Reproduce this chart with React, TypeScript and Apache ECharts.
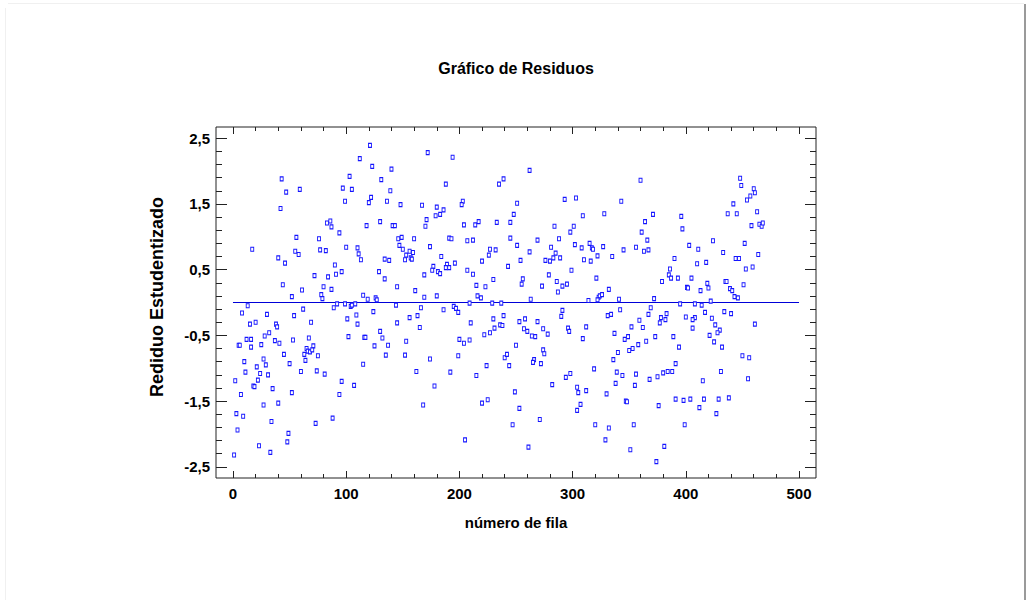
import React, { useEffect, useRef } from "react";
import * as echarts from "echarts";

const chartTitle = "Gráfico de Residuos";
const xAxisTitle = "número de fila";
const yAxisTitle = "Rediduo Estudentizado";

const xMajorTicks = [0, 100, 200, 300, 400, 500];
const xMinorTicks = [0, 20, 40, 60, 80, 100, 120, 140, 160, 180, 200, 220, 240, 260, 280, 300, 320, 340, 360, 380, 400, 420, 440, 460, 480, 500];
const yMajorTicks = [-2.5, -1.5, -0.5, 0.5, 1.5, 2.5];
const yMinorTicks = [-2.5, -2.3, -2.1, -1.9, -1.7, -1.5, -1.3, -1.1, -0.9, -0.7, -0.5, -0.3, -0.1, 0.1, 0.3, 0.5, 0.7, 0.9, 1.1, 1.3, 1.5, 1.7, 1.9, 2.1, 2.3, 2.5];

const zeroLine = [[0, 0], [500, 0]];

// [número de fila, residuo estudentizado]
const rows1to74 = [
  [43, 1.88], [47, 1.68], [59, 1.72], [42, 1.43], [56, 0.99], [17, 0.81], [55, 0.78], [58, 0.73], [40, 0.68], [46, 0.6],
  [72, 0.41], [44, 0.27], [61, 0.19], [52, 0.09], [13, -0.05], [8, -0.16], [30, -0.18], [54, -0.2], [62, -0.1], [15, -0.33],
  [20, -0.3], [38, -0.33], [39, -0.37], [69, -0.3], [32, -0.46], [28, -0.51], [12, -0.56], [16, -0.56], [53, -0.57], [67, -0.54],
  [5, -0.65], [6, -0.65], [16, -0.68], [25, -0.64], [37, -0.58], [41, -0.62], [65, -0.7], [66, -0.74], [68, -0.75], [71, -0.66],
  [70, -0.72], [63, -0.79], [64, -0.88], [45, -0.79], [10, -0.9], [27, -0.86], [29, -0.95], [21, -0.98], [50, -0.93], [11, -1.06],
  [24, -1.08], [31, -1.1], [60, -1.05], [22, -1.18], [18, -1.27], [19, -1.28], [2, -1.19], [35, -1.31], [52, -1.37], [7, -1.4],
  [27, -1.56], [40, -1.53], [3, -1.69], [9, -1.73], [34, -1.81], [4, -1.94], [49, -1.99], [48, -2.12], [23, -2.18], [33, -2.28],
  [1, -2.32], [73, -1.84], [74, -1.04],
];

const rows75to157 = [
  [121, 2.39], [112, 2.19], [123, 2.07], [140, 2.03], [103, 1.92], [131, 1.87], [97, 1.74], [105, 1.72], [139, 1.7], [122, 1.6],
  [120, 1.52], [99, 1.54], [136, 1.54], [148, 1.49], [86, 1.24], [83, 1.21], [87, 1.15], [118, 1.17], [130, 1.23], [141, 1.17],
  [143, 1.17], [94, 1.06], [76, 0.97], [146, 0.97], [149, 0.99], [77, 0.8], [82, 0.79], [100, 0.84], [110, 0.83], [111, 0.74],
  [113, 0.65], [147, 0.87], [150, 0.81], [156, 0.78], [153, 0.72], [152, 0.65], [157, 0.68], [134, 0.66], [138, 0.64], [90, 0.57],
  [84, 0.39], [91, 0.43], [96, 0.47], [129, 0.47], [134, 0.36], [80, 0.24], [87, 0.2], [145, 0.24], [115, 0.11], [119, 0.05],
  [78, 0.12], [79, 0.06], [126, 0.07], [127, 0.04], [92, -0.02], [89, -0.08], [99, -0.02], [104, -0.06], [105, -0.04], [108, -0.02],
  [144, -0.04], [124, -0.14], [101, -0.25], [109, -0.19], [110, -0.33], [145, -0.31], [156, -0.23], [130, -0.44], [102, -0.52], [116, -0.53],
  [117, -0.53], [132, -0.54], [125, -0.66], [137, -0.65], [153, -0.59], [75, -0.81], [135, -0.8], [152, -0.8], [115, -0.94], [81, -1.09],
  [96, -1.2], [107, -1.26], [94, -1.4], [88, -1.76],
];

const rows158to240 = [
  [172, 2.28], [194, 2.21], [188, 1.8], [235, 1.8], [239, 1.88], [167, 1.48], [180, 1.45], [186, 1.41], [183, 1.34], [179, 1.32],
  [203, 1.54], [202, 1.49], [171, 1.26], [170, 1.16], [204, 1.18], [214, 1.18], [217, 1.23], [233, 1.22], [160, 0.97], [191, 0.98],
  [193, 0.97], [207, 0.94], [212, 0.95], [174, 0.85], [159, 0.76], [158, 0.66], [184, 0.7], [227, 0.81], [232, 0.8], [226, 0.72],
  [177, 0.55], [176, 0.49], [181, 0.47], [183, 0.44], [189, 0.58], [188, 0.53], [191, 0.53], [196, 0.6], [220, 0.63], [207, 0.49],
  [212, 0.43], [169, 0.42], [230, 0.35], [215, 0.26], [223, 0.24], [161, 0.18], [169, 0.08], [180, 0.1], [216, 0.1], [219, 0.07],
  [209, -0.01], [229, -0.01], [237, -0.01], [166, -0.08], [195, -0.06], [197, -0.09], [199, -0.15], [186, -0.11], [163, -0.2], [230, -0.25],
  [239, -0.2], [165, -0.38], [210, -0.31], [236, -0.34], [238, -0.35], [231, -0.39], [227, -0.46], [222, -0.49], [200, -0.56], [204, -0.62],
  [209, -0.57], [174, -0.86], [199, -0.81], [240, -0.84], [224, -0.96], [162, -1.05], [192, -1.06], [215, -1.11], [178, -1.27], [168, -1.56],
  [220, -1.53], [225, -1.48], [205, -2.09],
];

const rows241to324 = [
  [262, 2.01], [251, 1.51], [293, 1.57], [303, 1.59], [248, 1.34], [245, 1.22], [309, 1.32], [284, 1.16], [301, 1.16], [298, 1.07],
  [245, 0.98], [269, 0.95], [288, 0.97], [251, 0.87], [281, 0.84], [302, 0.88], [308, 0.83], [315, 0.9], [317, 0.83], [318, 0.81],
  [322, 0.71], [262, 0.77], [254, 0.64], [276, 0.64], [280, 0.63], [283, 0.68], [285, 0.75], [289, 0.68], [310, 0.65], [316, 0.63],
  [243, 0.55], [299, 0.49], [279, 0.42], [256, 0.36], [255, 0.28], [273, 0.25], [286, 0.32], [291, 0.25], [295, 0.28], [287, 0.16],
  [321, 0.37], [263, 0.05], [314, 0.03], [323, 0.08], [324, 0.1], [291, -0.12], [290, -0.21], [258, -0.25], [253, -0.29], [269, -0.29],
  [257, -0.4], [260, -0.44], [274, -0.4], [278, -0.48], [296, -0.39], [297, -0.44], [312, -0.37], [309, -0.55], [264, -0.51], [267, -0.52],
  [250, -0.65], [242, -0.79], [274, -0.72], [275, -0.78], [266, -0.87], [265, -0.91], [272, -0.93], [244, -0.96], [298, -1.08], [294, -1.14],
  [319, -1.01], [282, -1.25], [304, -1.29], [305, -1.37], [312, -1.34], [249, -1.36], [307, -1.55], [304, -1.64], [253, -1.61], [271, -1.78],
  [247, -1.86], [320, -1.86], [261, -2.2],
];

const rows325to409 = [
  [360, 1.86], [343, 1.54], [328, 1.35], [371, 1.34], [396, 1.31], [364, 1.23], [397, 1.12], [361, 1.07], [366, 0.95], [327, 0.85],
  [345, 0.8], [356, 0.84], [363, 0.78], [367, 0.8], [403, 0.87], [335, 0.7], [390, 0.67], [386, 0.51], [385, 0.42], [387, 0.37],
  [393, 0.37], [379, 0.32], [405, 0.37], [332, 0.2], [401, 0.23], [402, 0.22], [326, 0.12], [322, 0.04], [341, 0.05], [372, 0.06],
  [395, -0.02], [408, -0.02], [369, -0.08], [342, -0.11], [331, -0.2], [334, -0.18], [367, -0.18], [383, -0.17], [378, -0.23], [382, -0.26],
  [377, -0.31], [400, -0.22], [408, -0.23], [406, -0.26], [406, -0.39], [359, -0.27], [352, -0.37], [362, -0.38], [337, -0.47], [349, -0.52],
  [346, -0.56], [373, -0.52], [389, -0.52], [358, -0.64], [365, -0.59], [353, -0.7], [350, -0.73], [394, -0.68], [340, -0.76], [336, -0.87],
  [391, -0.93], [339, -1.06], [344, -1.11], [356, -1.09], [368, -1.17], [375, -1.13], [380, -1.07], [384, -1.05], [388, -1.05], [338, -1.23],
  [355, -1.26], [330, -1.39], [347, -1.5], [348, -1.51], [376, -1.57], [391, -1.47], [398, -1.49], [404, -1.47], [354, -1.86], [332, -1.91],
  [399, -1.86], [329, -2.09], [351, -2.24], [381, -2.19], [374, -2.42],
];

const rows410to469 = [
  [448, 1.89], [449, 1.78], [460, 1.73], [461, 1.67], [457, 1.62], [454, 1.56], [442, 1.5], [437, 1.35], [445, 1.35], [463, 1.38],
  [458, 1.17], [465, 1.19], [467, 1.16], [468, 1.21], [424, 0.94], [452, 0.9], [411, 0.81], [433, 0.76], [464, 0.73], [444, 0.67],
  [447, 0.67], [418, 0.61], [410, 0.59], [453, 0.51], [459, 0.54], [435, 0.32], [436, 0.32], [419, 0.29], [420, 0.22], [451, 0.27],
  [413, 0.18], [439, 0.21], [441, 0.18], [443, 0.09], [446, 0.07], [422, 0.02], [414, -0.04], [417, -0.15], [434, -0.14], [440, -0.17],
  [423, -0.24], [426, -0.34], [430, -0.42], [428, -0.46], [461, -0.33], [421, -0.5], [425, -0.6], [432, -0.68], [450, -0.81], [456, -0.84],
  [431, -1.05], [455, -1.16], [415, -1.19], [416, -1.47], [429, -1.47], [438, -1.45], [412, -1.6], [427, -1.69],
];

const FONT = "'Liberation Sans', Arial, Helvetica, sans-serif";
const AXIS_COLOR = "#222";
const POINT_COLOR = "#1414ff";
const LINE_COLOR = "#0000d8";

function xAxisDef(position: string, ticks: number[], len: number, labels: boolean) {
  return {
    type: "value",
    gridIndex: 0,
    position,
    min: -15,
    max: 515,
    axisLine: { show: false, onZero: false },
    splitLine: { show: false },
    axisTick: { show: true, inside: true, length: len, customValues: ticks, lineStyle: { color: AXIS_COLOR, width: 1 } },
    axisLabel: labels
      ? { show: true, customValues: ticks, fontSize: 15, fontWeight: "bold", color: "#000", fontFamily: FONT, margin: 8 }
      : { show: false },
  };
}

function yAxisDef(position: string, ticks: number[], len: number, labels: boolean) {
  return {
    type: "value",
    gridIndex: 0,
    position,
    min: -2.67,
    max: 2.67,
    axisLine: { show: false, onZero: false },
    splitLine: { show: false },
    axisTick: { show: true, inside: true, length: len, customValues: ticks, lineStyle: { color: AXIS_COLOR, width: 1 } },
    axisLabel: labels
      ? {
          show: true,
          customValues: ticks,
          fontSize: 15,
          fontWeight: "bold",
          color: "#000",
          fontFamily: FONT,
          margin: 6,
          formatter: (v: number) => v.toFixed(1).replace(".", ","),
        }
      : { show: false },
  };
}

export default function App() {
  const ref = useRef<HTMLDivElement>(null);

  useEffect(() => {
    document.body.style.margin = "0";
    const chart = echarts.init(ref.current as HTMLDivElement, null, { renderer: "svg" });
    const points = [...rows1to74, ...rows75to157, ...rows158to240, ...rows241to324, ...rows325to409, ...rows410to469];

    chart.setOption({
      animation: false,
      backgroundColor: "#ffffff",
      grid: {
        left: 216,
        top: 127,
        width: 600,
        height: 351,
        show: true,
        borderColor: AXIS_COLOR,
        borderWidth: 1,
        backgroundColor: "transparent",
      },
      xAxis: [
        xAxisDef("bottom", xMajorTicks, 7, true),
        xAxisDef("bottom", xMinorTicks, 4, false),
        xAxisDef("top", xMajorTicks, 7, false),
        xAxisDef("top", xMinorTicks, 4, false),
      ],
      yAxis: [
        yAxisDef("left", yMajorTicks, 11, true),
        yAxisDef("left", yMinorTicks, 6, false),
        yAxisDef("right", yMajorTicks, 11, false),
        yAxisDef("right", yMinorTicks, 6, false),
      ],
      series: [
        {
          type: "line",
          xAxisIndex: 0,
          yAxisIndex: 0,
          data: zeroLine,
          showSymbol: false,
          symbol: "none",
          silent: true,
          lineStyle: { color: LINE_COLOR, width: 1 },
          z: 2,
        },
        {
          type: "scatter",
          xAxisIndex: 0,
          yAxisIndex: 0,
          data: points,
          symbol: "rect",
          symbolSize: [3, 4],
          silent: true,
          itemStyle: { color: "#ffffff", borderColor: POINT_COLOR, borderWidth: 1, opacity: 1 },
          z: 3,
        },
      ],
      graphic: [
        {
          type: "text",
          x: 516,
          y: 68,
          style: { text: chartTitle, fill: "#000", font: `bold 16px ${FONT}`, align: "center", verticalAlign: "middle" },
        },
        {
          type: "text",
          x: 516,
          y: 522,
          style: { text: xAxisTitle, fill: "#000", font: `bold 15px ${FONT}`, align: "center", verticalAlign: "middle" },
        },
        {
          type: "text",
          x: 157,
          y: 297,
          rotation: Math.PI / 2,
          style: { text: yAxisTitle, fill: "#000", font: `bold 18px ${FONT}`, align: "center", verticalAlign: "middle" },
        },
        {
          type: "line",
          shape: { x1: 1025, y1: 4, x2: 1025, y2: 600 },
          style: { stroke: "#9a9a9a", lineWidth: 2 },
        },
        {
          type: "line",
          shape: { x1: 8, y1: 3.5, x2: 1024, y2: 3.5 },
          style: { stroke: "#f0f0f0", lineWidth: 1 },
        },
        {
          type: "line",
          shape: { x1: 5.5, y1: 8, x2: 5.5, y2: 600 },
          style: { stroke: "#f0f0f0", lineWidth: 1 },
        },
      ],
    });

    return () => chart.dispose();
  }, []);

  return (
    <div
      ref={ref}
      style={{ position: "absolute", left: 0, top: 0, width: 1027, height: 600, background: "#fff" }}
    />
  );
}
